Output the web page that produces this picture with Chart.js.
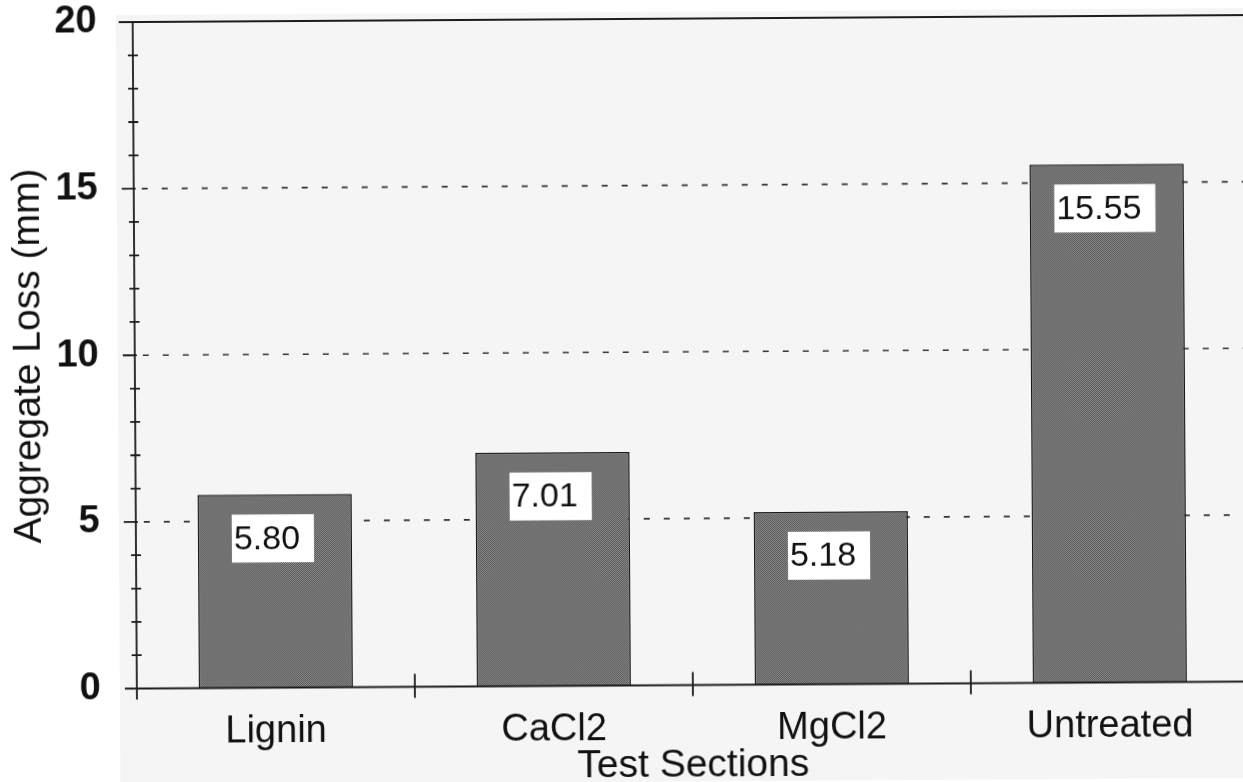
<!DOCTYPE html>
<html>
<head>
<meta charset="utf-8">
<script src="https://cdn.jsdelivr.net/npm/chart.js@4/dist/chart.umd.min.js"></script>
<style>
  html, body { margin: 0; padding: 0; background: #fff; overflow: hidden; }
  #wrap { position: relative; width: 1243px; height: 782px; overflow: hidden; background: #fff; }
  #c { position: absolute; left: 0; top: 0; transform: rotate(-0.36deg); transform-origin: 621px 391px; }
</style>
</head>
<body>
<div id="wrap"><canvas id="c" width="1260" height="782"></canvas></div>
<script>
// Aggregate loss per dust-palliative test section
const sections = ['Lignin', 'CaCl2', 'MgCl2', 'Untreated'];
const aggregateLoss = [5.80, 7.01, 5.18, 15.55];
const yTicks = [0, 5, 10, 15, 20];
const xTitle = 'Test Sections';
const yTitle = 'Aggregate Loss (mm)';

const FONT = "'Liberation Sans', Arial, Helvetica, sans-serif";
const INK = '#1c1c1c';

const canvas = document.getElementById('c');
const ctx = canvas.getContext('2d');

// stippled grey fill for the bars
const tile = document.createElement('canvas');
tile.width = 2; tile.height = 2;
const tctx = tile.getContext('2d');
tctx.fillStyle = '#8e8e8e'; tctx.fillRect(0, 0, 2, 2);
tctx.fillStyle = '#555555'; tctx.fillRect(0, 0, 1, 1); tctx.fillRect(1, 1, 1, 1);
const barFill = ctx.createPattern(tile, 'repeat');

const frame = {
  id: 'frame',
  beforeDraw(chart) {
    const c = chart.ctx;
    c.save();
    c.fillStyle = '#ffffff';
    c.fillRect(0, 0, chart.width, chart.height);
    c.fillStyle = '#f5f5f5';
    c.fillRect(118, 12, chart.width - 118, chart.height - 12);
    c.restore();
  },
  beforeDatasetsDraw(chart) {
    const c = chart.ctx, a = chart.chartArea, y = chart.scales.y;
    c.save();
    c.strokeStyle = '#333333';
    c.lineWidth = 1.7;
    c.setLineDash([6, 14]);
    yTicks.forEach(v => {
      if (v === y.min || v === y.max) return;
      const py = y.getPixelForValue(v);
      c.beginPath();
      c.moveTo(a.left + 8, py);
      c.lineTo(a.right, py);
      c.stroke();
    });
    c.restore();
  },
  afterDatasetsDraw(chart) {
    const c = chart.ctx, a = chart.chartArea, y = chart.scales.y, x = chart.scales.x;
    const y0 = y.getPixelForValue(0), yTop = y.getPixelForValue(y.max);
    c.save();
    c.strokeStyle = INK;
    c.lineWidth = 1.8;
    c.beginPath();
    // frame top and axes
    c.moveTo(121, yTop); c.lineTo(chart.width, yTop);
    c.moveTo(a.left - 8, y0); c.lineTo(chart.width, y0);
    c.moveTo(a.left, yTop); c.lineTo(a.left, y0 + 11);
    // major ticks
    yTicks.forEach(v => {
      const py = y.getPixelForValue(v);
      c.moveTo(a.left - 12, py); c.lineTo(a.left + 2, py);
    });
    // minor ticks
    for (let v = y.min + 1; v < y.max; v++) {
      if (v % 5 === 0) continue;
      const py = y.getPixelForValue(v);
      c.moveTo(a.left - 5, py); c.lineTo(a.left + 5, py);
    }
    // category dividers
    for (let i = 1; i < sections.length; i++) {
      const px = (x.getPixelForValue(i - 1) + x.getPixelForValue(i)) / 2;
      c.moveTo(px, y0 - 13); c.lineTo(px, y0 + 11);
    }
    c.stroke();

    // value boxes
    const meta = chart.getDatasetMeta(0);
    c.font = '34px ' + FONT;
    c.textBaseline = 'middle';
    c.textAlign = 'left';
    meta.data.forEach((bar, i) => {
      const txt = aggregateLoss[i].toFixed(2);
      const tw = c.measureText(txt).width;
      const w = tw + 16, h = 48;
      const left = bar.x - w / 2 - 2, top = bar.y + 20;
      c.fillStyle = '#ffffff';
      c.fillRect(left, top, w, h);
      c.fillStyle = '#111';
      c.fillText(txt, left + 2, top + h / 2 + 1);
    });
    c.restore();
  }
};

new Chart(ctx, {
  type: 'bar',
  data: {
    labels: sections,
    datasets: [{
      data: aggregateLoss,
      backgroundColor: barFill,
      borderColor: '#161616',
      borderWidth: 1.5,
      barPercentage: 0.554,
      categoryPercentage: 1
    }]
  },
  options: {
    responsive: false,
    animation: false,
    devicePixelRatio: 1,
    layout: { padding: { top: 19, right: 13, left: 0, bottom: 0 } },
    plugins: { legend: { display: false }, tooltip: { enabled: false } },
    scales: {
      x: {
        grid: { display: false },
        border: { display: false },
        ticks: { color: '#111', font: { family: FONT, size: 38 }, padding: 13 },
        title: {
          display: true, text: xTitle, color: '#111',
          font: { family: FONT, size: 39, lineHeight: 0.8 },
          padding: { top: 0, bottom: 0 }
        },
        afterFit(s) { s.height = 96.5; s.paddingLeft = 0; s.paddingRight = 0; }
      },
      y: {
        min: 0, max: 20,
        grid: { display: false },
        border: { display: false },
        afterBuildTicks(s) { s.ticks = yTicks.map(v => ({ value: v })); },
        ticks: { color: '#111', font: { family: FONT, size: 38, weight: 'bold' }, padding: 28 },
        title: {
          display: true, text: yTitle, color: '#111',
          font: { family: FONT, size: 39 },
          padding: { top: 6, bottom: 0 }
        },
        afterFit(s) { s.width = 135; s.paddingTop = 0; s.paddingBottom = 0; }
      }
    }
  },
  plugins: [frame]
});
</script>
</body>
</html>
